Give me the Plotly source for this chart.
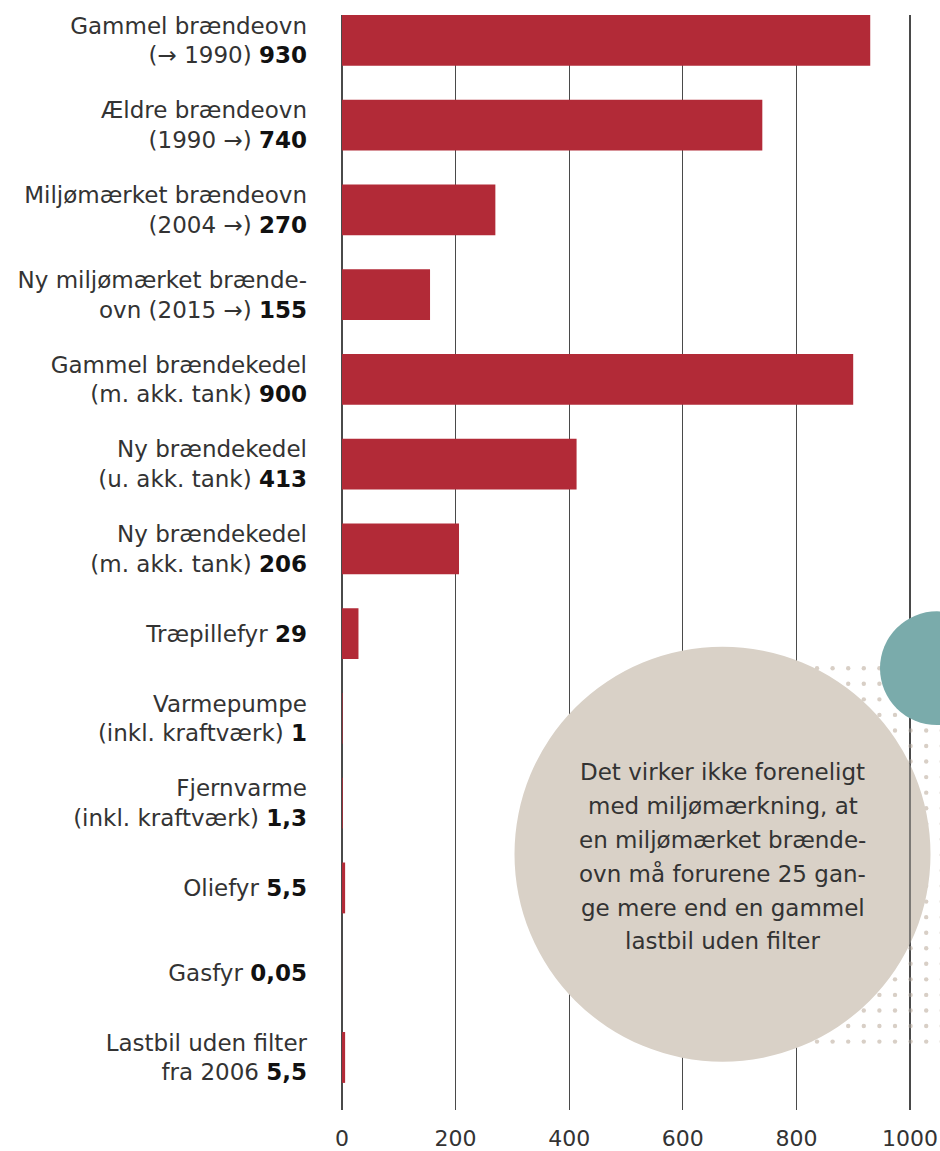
import numpy as np
import plotly.graph_objects as go

# ---------------- data ----------------
categories = [
    "Gammel brændeovn<br>(→ 1990)",
    "Ældre brændeovn<br>(1990 →)",
    "Miljømærket brændeovn<br>(2004 →)",
    "Ny miljømærket brænde-<br>ovn (2015 →)",
    "Gammel brændekedel<br>(m. akk. tank)",
    "Ny brændekedel<br>(u. akk. tank)",
    "Ny brændekedel<br>(m. akk. tank)",
    "Træpillefyr",
    "Varmepumpe<br>(inkl. kraftværk)",
    "Fjernvarme<br>(inkl. kraftværk)",
    "Oliefyr",
    "Gasfyr",
    "Lastbil uden filter<br>fra 2006",
]
values = [930, 740, 270, 155, 900, 413, 206, 29, 1, 1.3, 5.5, 0.05, 5.5]
value_labels = ["930", "740", "270", "155", "900", "413", "206", "29", "1", "1,3", "5,5", "0,05", "5,5"]
x_ticks = [0, 200, 400, 600, 800, 1000]
note_lines = [
    "Det virker ikke foreneligt",
    "med miljømærkning, at",
    "en miljømærket brænde-",
    "ovn må forurene 25 gan-",
    "ge mere end en gammel",
    "lastbil uden filter",
]

# ---------------- layout geometry (page pixels) ----------------
W, H = 940, 1151
PLOT_LEFT, PLOT_TOP, PLOT_BOTTOM = 342, 15, 1113
L, T, R = PLOT_LEFT, PLOT_TOP, 0
B = H - PLOT_BOTTOM
PW, PH = W - L - R, H - T - B
FONT = "DejaVu Sans"
BAR = "#b22a37"
TXT = "#333333"
GRID = "#4a4a4a"


def px(x):
    return (x - PLOT_LEFT) / PW


def py(y):
    return 1 - (y - PLOT_TOP) / PH


ticktext = [f"{c} <b style='color:#111'>{v}</b>" for c, v in zip(categories, value_labels)]
ypos = list(range(len(categories)))

fig = go.Figure()
fig.add_trace(go.Bar(
    x=values, y=ypos, orientation="h",
    marker=dict(color=BAR, line=dict(width=0)),
    width=0.6, hoverinfo="skip", showlegend=False,
))

shapes = []
# dotted pattern (decoration)
for yy in np.arange(670, 1046, 15.6):
    for xx in np.arange(817, 946, 15.6):
        r = 2.2
        shapes.append(dict(type="circle", xref="paper", yref="paper",
                           x0=px(xx - r), x1=px(xx + r), y0=py(yy + r), y1=py(yy - r),
                           fillcolor="#d8cfc6", line=dict(width=0), layer="above"))
# beige circle
cx, cy, cr = 722.5, 856.5, 208
shapes.append(dict(type="circle", xref="paper", yref="paper",
                   x0=px(cx - cr), x1=px(cx + cr), y0=py(cy + cr), y1=py(cy - cr),
                   fillcolor="#d9d1c7", line=dict(width=0), layer="above"))
# 1000 gridline drawn on top of the beige circle
shapes.append(dict(type="line", xref="x", yref="paper",
                   x0=x_ticks[-1], x1=x_ticks[-1], y0=0, y1=1,
                   line=dict(color=GRID, width=1.3), layer="above"))
# teal circle
tx, ty, tr = 937, 670, 57
shapes.append(dict(type="circle", xref="paper", yref="paper",
                   x0=px(tx - tr), x1=px(tx + tr), y0=py(ty + tr), y1=py(ty - tr),
                   fillcolor="#7aabab", line=dict(width=0), layer="above"))

annotations = []
for i, line in enumerate(note_lines):
    annotations.append(dict(
        xref="paper", yref="paper", x=px(cx), y=py(774 + i * 34),
        text=line, showarrow=False, xanchor="center", yanchor="middle",
        font=dict(family=FONT, size=23, color=TXT),
    ))

fig.update_layout(
    width=W, height=H,
    margin=dict(l=L, r=R, t=T, b=B, pad=0),
    paper_bgcolor="white", plot_bgcolor="white",
    font=dict(family=FONT, color=TXT),
    bargap=0.4,
    shapes=shapes, annotations=annotations,
    xaxis=dict(
        range=[0, 1000 * PW / 568], tickvals=x_ticks, ticktext=[str(t) for t in x_ticks],
        showgrid=True, gridcolor=GRID, gridwidth=1.3,
        zeroline=True, zerolinecolor=GRID, zerolinewidth=1.3,
        showline=False, ticks="", tickfont=dict(family=FONT, size=22, color=TXT),
        ticklabelstandoff=13, fixedrange=True,
    ),
    yaxis=dict(
        range=[12.62, -0.3], tickvals=ypos, ticktext=ticktext,
        showgrid=False, zeroline=False, showline=False, ticks="",
        tickfont=dict(family=FONT, size=23, color=TXT),
        ticklabelstandoff=34, fixedrange=True,
    ),
)

# remove the browser's default 8px page margin so the figure fills the window
fig.write_html(
    "out.html",
    config={"displayModeBar": False, "staticPlot": True},
    post_script="document.body.style.margin='0px';",
)
